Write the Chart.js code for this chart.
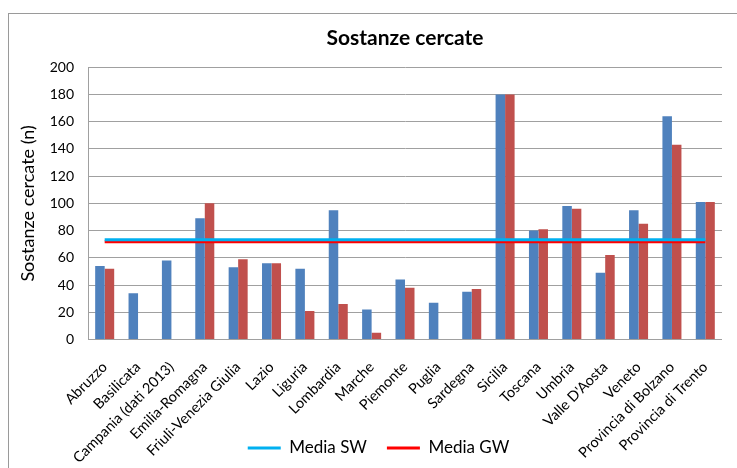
<!DOCTYPE html>
<html>
<head>
<meta charset="utf-8">
<script src="https://cdn.jsdelivr.net/npm/chart.js@4"></script>
<style>
  html, body { margin: 0; padding: 0; background: #fff; overflow: hidden; }
  #frame { position: absolute; left: 8px; top: 13px; width: 800px; height: 520px; border: 1px solid #9a9a9a; }
  #wrap { position: absolute; left: 0; top: 0; width: 737px; height: 468px; }
</style>
</head>
<body>
<div id="frame"></div>
<div id="wrap"><canvas id="chart" width="737" height="468"></canvas></div>
<script>
// ============================================================
// Sostanze cercate — bar per regione + linee di media SW / GW
// ============================================================

const regioni = [
  'Abruzzo', 'Basilicata', 'Campania (dati 2013)', 'Emilia-Romagna', 'Friuli-Venezia Giulia',
  'Lazio', 'Liguria', 'Lombardia', 'Marche', 'Piemonte', 'Puglia', 'Sardegna', 'Sicilia',
  'Toscana', 'Umbria', "Valle D'Aosta", 'Veneto', 'Provincia di Bolzano', 'Provincia di Trento',
];

// acque superficiali (SW) e sotterranee (GW)
const sostanzeSW = [54, 34, 58, 89, 53, 56, 52, 95, 22, 44, 27, 35, 180, 80, 98, 49, 95, 164, 101];
const sostanzeGW = [52, null, null, 100, 59, 56, 21, 26, 5, 38, null, 37, 180, 81, 96, 62, 85, 143, 101];

// linee di media: dal primo all'ultimo territorio
const mediaEstremi = ['Abruzzo', 'Provincia di Trento'];
const mediaSW = [73.3, 73.3];
const mediaGW = [71.8, 71.8];

const FONT = 'Lato';
const GRID = '#a0a0a0';

// le etichette ruotate scendono sotto il box dell'asse x: niente clip,
// e la legenda spostata un po' a destra come nell'originale
const aggiusta = {
  id: 'aggiusta',
  afterLayout(chart) {
    chart.scales.x.bottom = chart.height;
    chart.legend.left += 16;
    chart.legend.right += 16;
  },
};

const ctx = document.getElementById('chart');

new Chart(ctx, {
  type: 'bar',
  data: {
    labels: regioni,
    datasets: [
      {
        type: 'line', label: 'Media SW',
        data: mediaEstremi.map((x, i) => ({ x, y: mediaSW[i] })),
        borderColor: '#00B0F0', backgroundColor: '#00B0F0',
        borderWidth: 3, pointRadius: 0, order: 0,
      },
      {
        type: 'line', label: 'Media GW',
        data: mediaEstremi.map((x, i) => ({ x, y: mediaGW[i] })),
        borderColor: '#FF0000', backgroundColor: '#FF0000',
        borderWidth: 3, pointRadius: 0, order: 0,
      },
      { label: 'SW', data: sostanzeSW, backgroundColor: '#4F81BD', order: 1 },
      { label: 'GW', data: sostanzeGW, backgroundColor: '#C0504D', order: 1 },
    ],
  },
  plugins: [aggiusta],
  options: {
    responsive: false,
    animation: false,
    datasets: { bar: { categoryPercentage: 0.57, barPercentage: 1 } },
    layout: { padding: { top: 0, left: 0, right: 12, bottom: 1.5 } },
    plugins: {
      title: {
        display: true, text: 'Sostanze cercate', fullSize: false, color: '#000',
        font: { family: FONT, size: 21, weight: 'bold' },
        padding: { top: 26, bottom: 16 },
      },
      legend: {
        position: 'bottom',
        labels: {
          filter: item => item.datasetIndex < 2,
          usePointStyle: true, pointStyle: 'line', pointStyleWidth: 33,
          color: '#000', font: { family: FONT, size: 17 }, padding: 20,
        },
      },
      tooltip: { enabled: false },
    },
    scales: {
      x: {
        grid: { display: false, drawTicks: false },
        border: { color: GRID },
        ticks: {
          autoSkip: false, minRotation: 45, maxRotation: 45, padding: 19,
          color: '#000', font: { family: FONT, size: 14.5 },
        },
        afterFit: s => { s.height = 80; },
      },
      y: {
        min: 0, max: 200,
        ticks: { stepSize: 20, padding: 14, color: '#000', font: { family: FONT, size: 14 } },
        grid: { color: GRID, drawTicks: false },
        border: { color: GRID },
        title: {
          display: true, text: 'Sostanze cercate (n)', color: '#000',
          font: { family: FONT, size: 18 }, padding: { top: 17 },
        },
        afterFit: s => { s.width = 88; },
      },
    },
  },
});
</script>
</body>
</html>
